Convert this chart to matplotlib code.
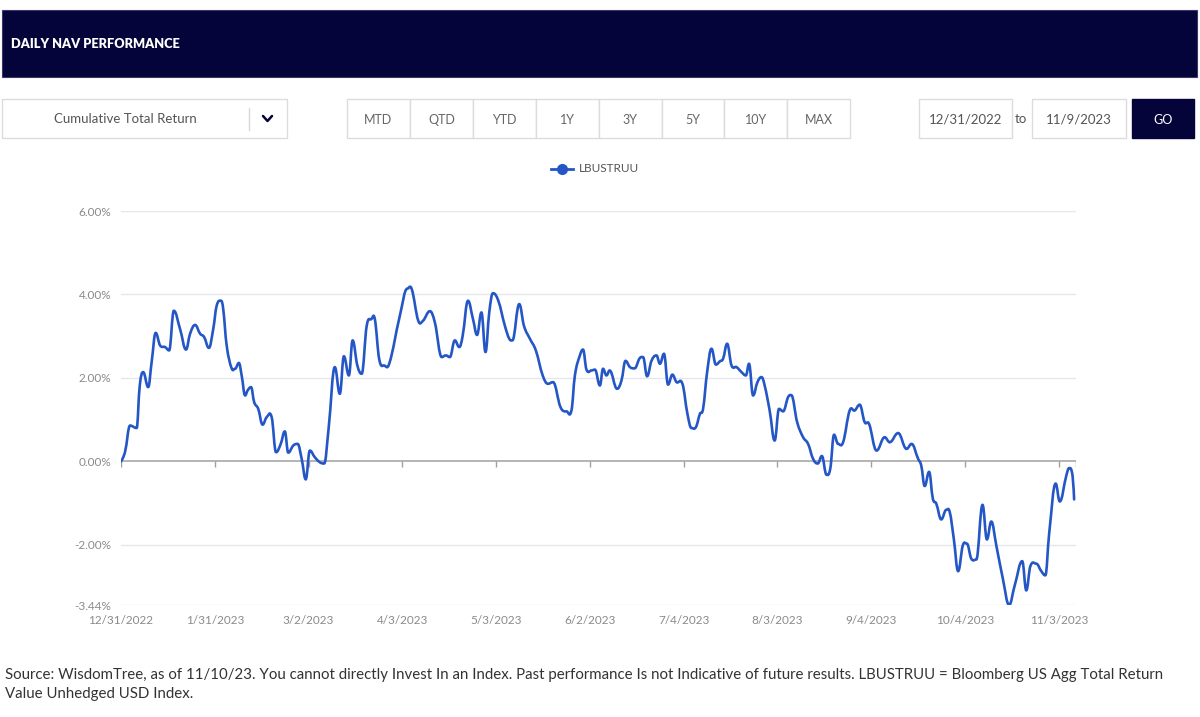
import matplotlib
matplotlib.use("Agg")
import matplotlib.pyplot as plt
from matplotlib.patches import Rectangle, PathPatch
from matplotlib.path import Path
from matplotlib.lines import Line2D

# ---------------- data ----------------
series_name = "LBUSTRUU"
tick_labels = ["12/31/2022", "1/31/2023", "3/2/2023", "4/3/2023", "5/3/2023", "6/2/2023",
               "7/4/2023", "8/3/2023", "9/4/2023", "10/4/2023", "11/3/2023"]
tick_positions = [0, 30, 60, 90, 120, 150, 180, 210, 240, 270, 300]
y_ticks = [6.0, 4.0, 2.0, 0.0, -2.0, -3.44]
y_tick_labels = ["6.00%", "4.00%", "2.00%", "0.00%", "-2.00%", "-3.44%"]

day_index = [0, 1.3, 2.9, 5.0, 6.0, 7.1, 8.7, 9.8, 11.1, 12.5, 14.1, 15.4, 16.9, 18.9, 20.8, 22.1,
             23.7, 25.3, 26.6, 28.1, 29.5, 30.6, 32.0, 32.7, 33.8, 35.4, 36.5, 37.7, 38.6, 39.7,
             40.5, 41.6, 42.6, 43.9, 45.3, 46.6, 48.2, 49.6, 51.1, 52.4, 53.5, 55.1, 56.5, 57.8,
             59.1, 60.4, 62.0, 63.6, 65.0, 66.4, 68.4, 70.0, 71.3, 72.9, 74.1, 75.6, 77.0, 78.6,
             80.1, 81.2, 82.6, 84.1, 85.8, 89.2, 91.6, 93.0, 95.1, 96.6, 98.8, 100.4, 102.6, 103.9,
             105.2, 106.8, 108.2, 109.3, 111.0, 112.6, 113.9, 115.3, 116.6, 117.8, 119.0, 120.7,
             122.8, 124.2, 125.2, 127.4, 128.9, 130.8, 132.7, 134.9, 136.6, 138.2, 140.6, 142.5,
             144.1, 145.2, 146.8, 147.8, 148.9, 150.5, 151.6, 153.2, 154.2, 155.3, 156.3, 158.7,
             160.1, 161.4, 162.8, 164.3, 165.9, 167.0, 168.3, 169.7, 171.3, 172.4, 173.7, 175.0,
             176.4, 177.7, 179.6, 181.2, 182.5, 183.9, 185.2, 186.2, 187.5, 188.9, 190.3, 191.6,
             192.6, 193.9, 195.3, 196.9, 198.5, 199.9, 200.9, 202.2, 203.6, 204.9, 205.9, 207.5,
             209.1, 210.5, 211.8, 213.4, 214.4, 216.3, 218.2, 219.8, 221.4, 222.9, 224.2, 225.7,
             226.9, 228.1, 229.4, 231.0, 233.1, 234.7, 236.3, 237.9, 239.3, 241.7, 244.3, 245.9,
             248.6, 251.3, 252.9, 255.0, 256.0, 257.1, 258.5, 259.7, 260.8, 262.4, 264.0, 265.1,
             266.4, 267.8, 269.3, 270.6, 272.0, 273.6, 275.6, 277.0, 278.4, 280.0, 282.1, 284.1,
             285.9, 288.3, 289.6, 290.9, 292.8, 294.4, 295.7, 296.9, 299.0, 300.3, 302.4, 303.3,
             304.4, 304.9]

cum_return = [0.00, 0.23, 0.86, 0.80, 1.82, 2.14, 1.78, 2.38, 3.08, 2.78, 2.74, 2.66, 3.61, 3.17,
              2.68, 3.06, 3.27, 3.06, 2.98, 2.72, 3.17, 3.73, 3.85, 3.65, 2.78, 2.23, 2.22, 2.36,
              2.06, 1.58, 1.70, 1.78, 1.42, 1.26, 0.88, 1.06, 1.06, 0.22, 0.42, 0.72, 0.21, 0.38,
              0.42, 0.06, -0.43, 0.26, 0.10, -0.02, -0.05, 0.78, 2.26, 1.62, 2.52, 2.06, 2.90,
              2.30, 2.10, 3.25, 3.41, 3.41, 2.45, 2.30, 2.34, 3.49, 4.14, 4.13, 3.37, 3.37, 3.60,
              3.33, 2.50, 2.54, 2.50, 2.90, 2.74, 3.01, 3.85, 3.41, 3.03, 3.57, 2.62, 3.57, 4.03,
              3.85, 3.25, 2.94, 2.90, 3.77, 3.25, 2.94, 2.66, 2.06, 1.86, 1.90, 1.30, 1.20, 1.22,
              2.06, 2.54, 2.68, 2.20, 2.18, 2.20, 1.82, 2.22, 2.06, 2.18, 1.74, 1.94, 2.41, 2.26,
              2.23, 2.47, 2.50, 2.04, 2.41, 2.54, 2.34, 2.58, 1.84, 2.08, 1.90, 1.86, 1.14, 0.80,
              0.82, 1.14, 1.26, 2.14, 2.70, 2.32, 2.40, 2.46, 2.82, 2.30, 2.26, 2.14, 2.06, 2.34,
              1.58, 1.90, 2.02, 1.82, 1.22, 0.50, 1.26, 1.20, 1.54, 1.59, 0.94, 0.58, 0.42, 0.06,
              -0.05, 0.13, -0.32, -0.17, 0.64, 0.42, 0.46, 1.22, 1.22, 1.36, 0.94, 0.90, 0.26,
              0.58, 0.46, 0.68, 0.30, 0.42, 0.06, -0.10, -0.59, -0.25, -0.89, -1.01, -1.39, -1.16,
              -1.21, -1.85, -2.63, -2.01, -1.97, -2.33, -2.35, -1.04, -1.87, -1.44, -2.01, -2.81,
              -3.44, -2.97, -2.39, -3.09, -2.51, -2.45, -2.63, -2.73, -1.74, -0.53, -0.96, -0.34,
              -0.16, -0.34, -0.91]

buttons = ["MTD", "QTD", "YTD", "1Y", "3Y", "5Y", "10Y", "MAX"]
date_from = "12/31/2022"
date_to = "11/9/2023"

# ---------------- styling ----------------
W, H = 1200, 717
NAVY = "#05043a"
LINE_BLUE = "#2457c5"
GRAY_TXT = "#8a8a8a"
BORDER = "#dcdcdc"
UI_FONT = ["Lato", "DejaVu Sans"]

fig = plt.figure(figsize=(W / 100, H / 100), dpi=100)
fig.patch.set_facecolor("white")


def fx(px):
    return px / W


def fy(py):
    return 1 - py / H


def box(x0, y0, x1, y1, face="white", edge=BORDER, lw=1.0):
    fig.add_artist(Rectangle((fx(x0), fy(y1)), fx(x1) - fx(x0), fy(y0) - fy(y1),
                             transform=fig.transFigure, facecolor=face, edgecolor=edge, lw=lw))


def text(px, py, s, **kw):
    fig.text(fx(px), fy(py), s, **kw)


def spline_path(xs, ys, smoothing=1.5):
    """Smooth spline path (Highcharts-style control points) through the data points."""
    denom = smoothing + 1
    n = len(xs)
    verts = [(xs[0], ys[0])]
    codes = [Path.MOVETO]
    right_prev = (xs[0], ys[0])
    for i in range(1, n):
        x, y = xs[i], ys[i]
        if i < n - 1:
            px_, py_ = xs[i - 1], ys[i - 1]
            nx_, ny_ = xs[i + 1], ys[i + 1]
            lcx = (smoothing * x + px_) / denom
            lcy = (smoothing * y + py_) / denom
            rcx = (smoothing * x + nx_) / denom
            rcy = (smoothing * y + ny_) / denom
            if rcx != lcx:
                corr = ((rcy - lcy) * (rcx - x)) / (rcx - lcx) + y - rcy
                lcy += corr
                rcy += corr
            if (py_ > y and ny_ > y) or (py_ < y and ny_ < y):
                lcy = y
                rcy = y
            left = (lcx, lcy)
            right = (rcx, rcy)
        else:
            left = (x, y)
            right = (x, y)
        verts += [right_prev, left, (x, y)]
        codes += [Path.CURVE4, Path.CURVE4, Path.CURVE4]
        right_prev = right
    return Path(verts, codes)


# header banner
box(2, 10, 1197, 77, face=NAVY, edge="#3a3a6a", lw=0.8)
text(11, 44, "DAILY NAV PERFORMANCE", color="white", fontsize=9.2, fontweight="heavy",
     family=UI_FONT, ha="left", va="center")

# dropdown
box(2, 99, 287, 138)
text(125, 119, "Cumulative Total Return", color="#555555", fontsize=9.5, family=UI_FONT,
     ha="center", va="center")
fig.add_artist(Line2D([fx(249), fx(249)], [fy(108), fy(130)], transform=fig.transFigure,
                      color="#d8d8d8", lw=1))
fig.add_artist(Line2D([fx(263), fx(267.5), fx(272)], [fy(116), fy(121), fy(116)],
                      transform=fig.transFigure, color=NAVY, lw=1.8,
                      solid_capstyle="round", solid_joinstyle="round"))

# period buttons
bx0, bw = 347, 62.9
for i, b in enumerate(buttons):
    x0 = bx0 + i * bw
    box(x0, 99, x0 + bw, 138)
    text(x0 + bw / 2, 120, b, color="#666666", fontsize=9, family=UI_FONT,
         ha="center", va="center")

# date range
box(919, 99, 1012, 138)
text(965.5, 119, date_from, color="#555555", fontsize=9.5, family=UI_FONT, ha="center", va="center")
text(1021, 119, "to", color="#555555", fontsize=9.5, family=UI_FONT, ha="center", va="center")
box(1032, 99, 1126, 138)
text(1079, 119, date_to, color="#555555", fontsize=9.5, family=UI_FONT, ha="center", va="center")
box(1132, 99, 1194, 138, face=NAVY, edge=NAVY)
text(1163, 120, "GO", color="white", fontsize=9, family=UI_FONT, ha="center", va="center")

# ---------------- chart ----------------
ax_l, ax_r, ax_t, ax_b = 121, 1076, 211, 605
ax = fig.add_axes([fx(ax_l), fy(ax_b), fx(ax_r) - fx(ax_l), fy(ax_t) - fy(ax_b)])
ax.set_xlim(0, 305.5)
ax.set_ylim(-3.44, 6.0)
for s in ax.spines.values():
    s.set_visible(False)

for yv in y_ticks:
    if yv != 0:
        ax.axhline(yv, color="#e6e6ef", lw=1.0, zorder=0)
ax.axhline(0, color="#a0a0a0", lw=1.1, zorder=1)
ax.vlines(tick_positions + [305.5], -0.13, 0, color="#a0a0a0", lw=1.0, zorder=1)

ax.add_patch(PathPatch(spline_path(day_index, cum_return), facecolor="none",
                       edgecolor=LINE_BLUE, lw=1.9, joinstyle="round", capstyle="round",
                       zorder=3))

ax.set_yticks(y_ticks)
ax.set_yticklabels(y_tick_labels)
ax.set_xticks(tick_positions)
ax.set_xticklabels(tick_labels)
ax.tick_params(axis="both", length=0, colors=GRAY_TXT, labelsize=8.5)
ax.tick_params(axis="x", pad=7)
ax.tick_params(axis="y", pad=7)
for lab in ax.get_xticklabels() + ax.get_yticklabels():
    lab.set_family(UI_FONT)

# legend
fig.add_artist(Line2D([fx(551), fx(573)], [fy(169), fy(169)], transform=fig.transFigure,
                      color=LINE_BLUE, lw=2, marker=None))
fig.add_artist(Line2D([fx(562)], [fy(169)], transform=fig.transFigure, color=LINE_BLUE,
                      marker="o", markersize=7, lw=0))
text(579, 169, series_name, color="#555555", fontsize=8.5, family=UI_FONT, ha="left", va="center")

# footnote
text(5, 675, "Source: WisdomTree, as of 11/10/23. You cannot directly Invest In an Index. Past performance "
             "Is not Indicative of future results. LBUSTRUU = Bloomberg US Agg Total Return",
     color="#333333", fontsize=10.8, family=UI_FONT, ha="left", va="center")
text(5, 694, "Value Unhedged USD Index.", color="#333333", fontsize=10.8, family=UI_FONT,
     ha="left", va="center")

fig.savefig("out.png", dpi=100, facecolor="white")
